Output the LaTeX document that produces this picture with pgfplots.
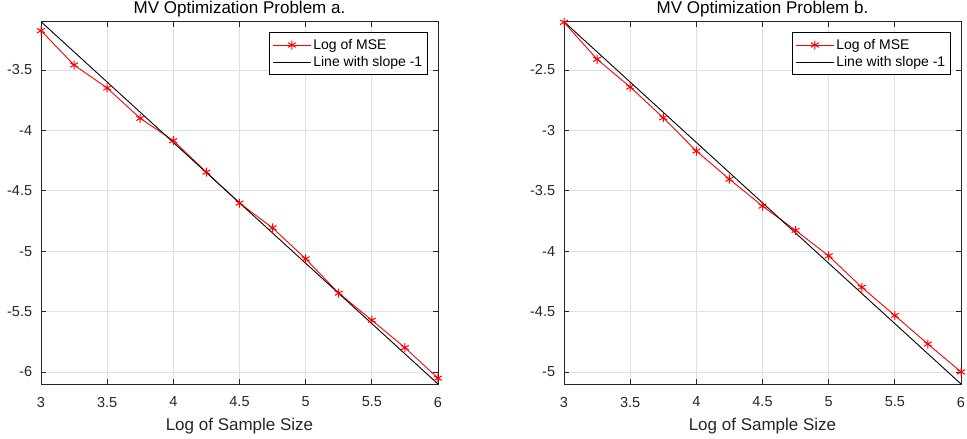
\documentclass[border=0pt]{standalone}
\usepackage{fontspec}
\setmainfont{Liberation Sans}
\usepackage{pgfplots}
\pgfplotsset{compat=1.18}

\pgfplotstableread{
x y
3.00 -3.174
3.25 -3.459
3.50 -3.649
3.75 -3.900
4.00 -4.085
4.25 -4.346
4.50 -4.602
4.75 -4.807
5.00 -5.064
5.25 -5.348
5.50 -5.572
5.75 -5.799
6.00 -6.052
}\msea

\pgfplotstableread{
x y
3.00 -2.105
3.25 -2.411
3.50 -2.641
3.75 -2.895
4.00 -3.171
4.25 -3.404
4.50 -3.627
4.75 -3.828
5.00 -4.039
5.25 -4.299
5.50 -4.533
5.75 -4.769
6.00 -5.000
}\mseb

\definecolor{axgray}{gray}{0.15}
\definecolor{gridgray}{gray}{0.88}

\pgfplotsset{
  mvstyle/.style={
    scale only axis,
    width=397pt, height=362.3pt,
    xmin=3, xmax=6,
    xtick={3,3.5,...,6},
    grid=major,
    grid style={gridgray, line width=0.8pt},
    axis line style={axgray, line width=0.8pt},
    tick style={axgray, line width=0.8pt},
    tick align=inside,
    xtick pos=both, ytick pos=both,
    major tick length=5pt,
    /pgf/number format/assume math mode=true,
    tick label style={font=\fontsize{14.5}{17}\selectfont, text=axgray, inner sep=0pt},
    xticklabel style={anchor=north, yshift=-12.7pt},
    yticklabel style={anchor=east, xshift=-8.7pt},
    title style={font=\fontsize{17}{20}\selectfont, at={(axis description cs:0.5,1)}, anchor=base, yshift=2.5pt},
    xlabel style={font=\fontsize{17}{20}\selectfont, text=axgray, at={(axis description cs:0.5,0)}, anchor=base, yshift=-46pt},
    xlabel={Log of Sample Size},
    legend style={font=\fontsize{14}{17}\selectfont, at={(1,1)}, anchor=north east,
      xshift=-10.3pt, yshift=-10.6pt, draw=black, line width=0.8pt, fill=white,
      inner xsep=3pt, inner ysep=4.5pt, row sep=1.5pt, legend cell align=left},
    legend image code/.code={
      \draw[mark repeat=2, mark phase=2] plot coordinates {(0pt,0pt) (19pt,0pt) (38pt,0pt)};
    },
  },
  msestyle/.style={red, line width=0.9pt, mark=asterisk, mark size=4.5pt, mark options={line width=1pt}},
  refstyle/.style={black, line width=0.9pt},
}

\begin{document}
\begin{tikzpicture}
\begin{axis}[mvstyle, at={(41pt,55pt)}, anchor=south west,
  ymin=-6.1, ymax=-3.1, ytick={-6,-5.5,...,-3.5},
  title={MV Optimization Problem a.}]
\addplot[msestyle] table[x=x, y=y] {\msea};
\addlegendentry{Log of MSE}
\addplot[refstyle] coordinates {(3,-3.1) (6,-6.1)};
\addlegendentry{Line with slope -1}
\end{axis}
\begin{axis}[mvstyle, at={(564pt,55pt)}, anchor=south west,
  ymin=-5.1, ymax=-2.1, ytick={-5,-4.5,...,-2.5},
  title={MV Optimization Problem b.}]
\addplot[msestyle] table[x=x, y=y] {\mseb};
\addlegendentry{Log of MSE}
\addplot[refstyle] coordinates {(3,-2.1) (6,-5.1)};
\addlegendentry{Line with slope -1}
\end{axis}
\pgfresetboundingbox
\useasboundingbox (0,0) rectangle (967pt,439pt);
\end{tikzpicture}
\end{document}
